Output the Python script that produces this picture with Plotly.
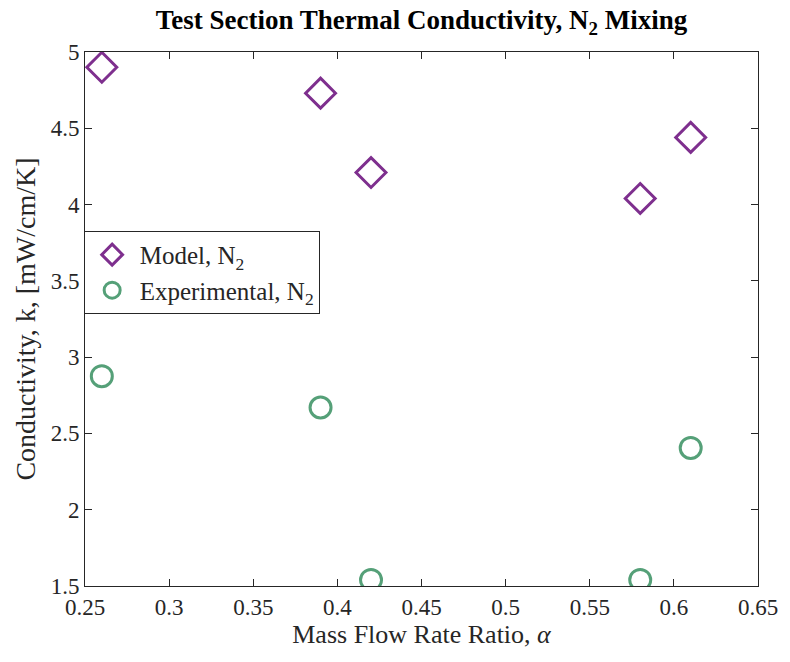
import plotly.graph_objects as go

alpha = [0.26, 0.39, 0.42, 0.58, 0.61]
k_model = [4.90, 4.73, 4.21, 4.04, 4.44]
k_exp = [2.875, 2.67, 1.54, 1.54, 2.405]

x_ticks = [0.25, 0.3, 0.35, 0.4, 0.45, 0.5, 0.55, 0.6, 0.65]
y_ticks = [1.5, 2, 2.5, 3, 3.5, 4, 4.5, 5]

purple = "#7E2F8E"
green = "#55A078"
font = "Liberation Serif"

fig = go.Figure()
fig.add_trace(go.Scatter(x=alpha, y=k_model, mode="markers", name="Model, N<sub>2</sub>",
                         marker=dict(symbol="diamond-open", size=23, color=purple, line=dict(width=3, color=purple))))
fig.add_trace(go.Scatter(x=alpha, y=k_exp, mode="markers", name="Experimental, N<sub>2</sub>",
                         marker=dict(symbol="circle-open", size=21, color=green, line=dict(width=3, color=green))))

axis_common = dict(showline=True, linecolor="#262626", linewidth=1, mirror="ticks", ticks="inside",
                   ticklen=7, tickcolor="#262626", showgrid=False, zeroline=False,
                   tickfont=dict(family=font, size=23, color="#262626"))

fig.update_layout(
    width=790, height=662,
    margin=dict(l=85, r=28, t=52, b=76),
    paper_bgcolor="white", plot_bgcolor="white",
    title=dict(text="<b>Test Section Thermal Conductivity, N<sub>2</sub> Mixing</b>", xref="paper", x=0.5, xanchor="center",
               y=0.97, yanchor="middle", font=dict(family=font, size=27, color="black")),
    xaxis=dict(range=[0.25, 0.65], tickvals=x_ticks, ticktext=[f"{v:g}" for v in x_ticks],
               title=dict(text="Mass Flow Rate Ratio, <i>α</i>", font=dict(family=font, size=26, color="#262626"), standoff=4),
               **axis_common),
    yaxis=dict(range=[1.5, 5], tickvals=y_ticks, ticktext=[f"{v:g}" for v in y_ticks],
               title=dict(text="Conductivity, k, [mW/cm/K]", font=dict(family=font, size=28, color="#262626"), standoff=6),
               **axis_common),
    legend=dict(x=-0.002, y=0.665, xanchor="left", yanchor="top", bgcolor="white",
                bordercolor="#262626", borderwidth=1, font=dict(family=font, size=25, color="#262626"),
                itemsizing="trace", itemwidth=45, tracegroupgap=2),
    showlegend=True,
)

fig.write_html("out.html")
